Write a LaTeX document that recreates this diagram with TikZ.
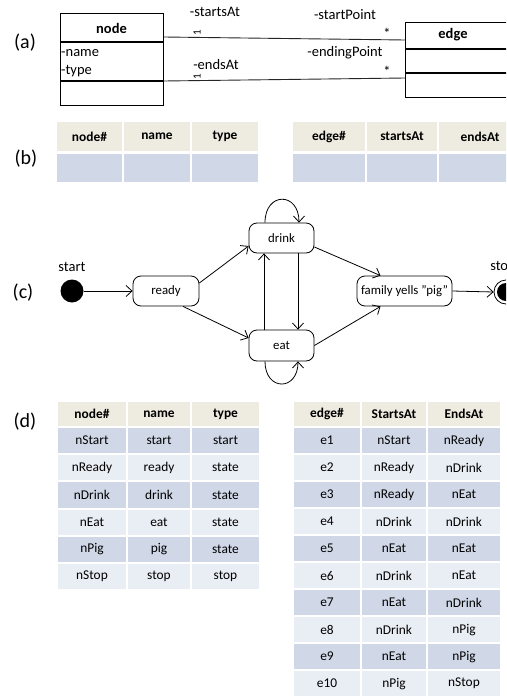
\documentclass[tikz,border=0pt]{standalone}
\usepackage{fontspec}
\setmainfont{Carlito}
\usetikzlibrary{arrows.meta}
\definecolor{hdr}{RGB}{238,236,225}
\definecolor{rowdark}{RGB}{208,216,232}
\definecolor{rowlight}{RGB}{233,237,244}
\begin{document}
\begin{tikzpicture}[x=1pt,y=-1pt,
  cell/.style={inner sep=0pt, outer sep=0pt, font=\fontsize{13.4}{15}\selectfont},
  hcell/.style={cell, fill=hdr, font=\fontsize{13.4}{15}\selectfont\bfseries},
  state/.style={draw, rounded corners=8pt, line width=0.8pt, inner sep=0pt, font=\fontsize{12.8}{14}\selectfont},
  trans/.style={line width=0.8pt, -{Straight Barb[length=6pt,width=11pt]}},
  lbl/.style={inner sep=0pt, font=\fontsize{14.5}{16}\selectfont},
  panel/.style={inner sep=0pt, font=\fontsize{20}{23}\selectfont},
  umlbox/.style={draw, line width=1.1pt, inner sep=0pt, anchor=north west},
  umlline/.style={line width=0.9pt, draw=black!85}
]
\clip (0,0) rectangle (506,696);
\fill[white] (0,0) rectangle (506,696);

% ---------------- (a) UML ----------------
\node[panel] (pa) at (25,43) {(a)};
\node[umlbox, minimum width=103pt, minimum height=92pt] (umlnode) at (60,13) {};
\draw[line width=1.1pt] ([yshift=-29pt]umlnode.north west) -- ([yshift=-29pt]umlnode.north east);
\draw[line width=1.1pt] ([yshift=-68pt]umlnode.north west) -- ([yshift=-68pt]umlnode.north east);
\node[lbl, font=\fontsize{14.5}{16}\selectfont\bfseries] (nodetitle) at (111.5,28) {node};
\node[lbl, anchor=west] (attrname) at (61,53) {-name};
\node[lbl, anchor=west] (attrtype) at (61,71) {-type};

\node[umlbox, minimum width=130pt, minimum height=75pt] (umledge) at (405,22) {};
\draw[line width=1.1pt] ([yshift=-27pt]umledge.north west) -- ([yshift=-27pt]umledge.north east);
\draw[line width=1.1pt] ([yshift=-51pt]umledge.north west) -- ([yshift=-51pt]umledge.north east);
\node[lbl, font=\fontsize{14.5}{16}\selectfont\bfseries] (edgetitle) at (453,35) {edge};

\draw[umlline] ([yshift=-24pt]umlnode.north east) -- ([yshift=-18pt]umledge.north west);
\draw[umlline] ([yshift=-68pt]umlnode.north east) -- ([yshift=-56pt]umledge.north west);

\node[lbl] (lstarts) at (215,12) {-startsAt};
\node[lbl] (lends) at (216,65) {-endsAt};
\node[lbl] (lstartp) at (345,15) {-startPoint};
\node[lbl] (lendp) at (345,53) {-endingPoint};
\node[inner sep=0pt, rotate=90, font=\fontsize{11}{12}\selectfont] (one1) at (197,32.5) {1};
\node[inner sep=0pt, rotate=90, font=\fontsize{11}{12}\selectfont] (one2) at (197,76.5) {1};
\node[lbl] (star1) at (387,33) {*};
\node[lbl] (star2) at (387,71) {*};

% ---------------- (b) empty tables ----------------
\node[panel] (pb) at (26,159) {(b)};
\foreach \cx/\w/\t [count=\k] in {89.5/65/node\#, 157/66/name, 225/66/type}{
  \node[hcell, minimum width=\w pt, minimum height=29pt] (bh\k) at (\cx,136.5) {\t};
  \node[cell, fill=rowdark, minimum width=\w pt, minimum height=28pt] (bd\k) at (\cx,168) {};
}
\foreach \cx/\w/\t [count=\k] in {329/72/edge\#, 402/70/startsAt, 480/82/endsAt}{
  \node[hcell, minimum width=\w pt, minimum height=29pt] (be\k) at (\cx,136.5) {\t};
  \node[cell, fill=rowdark, minimum width=\w pt, minimum height=28pt] (bf\k) at (\cx,168) {};
}

% ---------------- (c) state diagram ----------------
\node[panel] (pc) at (23,293) {(c)};
\node[circle, fill=black, minimum size=23pt, inner sep=0pt] (start) at (72,291) {};
\node[lbl] (startlbl) at (72,267) {start};
\node[state, minimum width=66pt, minimum height=30pt] (ready) at (166,291) {ready};
\node[state, minimum width=65pt, minimum height=30pt] (drink) at (281.5,238) {drink};
\node[state, minimum width=65pt, minimum height=31pt] (eat) at (281.5,345.5) {eat};
\node[state, minimum width=95pt, minimum height=30pt] (pig) at (404.5,291) {family yells \symbol{34}pig\symbol{34}};
\node[circle, draw, line width=0.8pt, minimum size=24pt, inner sep=0pt] (stop) at (506,292) {};
\node[circle, fill=black, minimum size=18pt, inner sep=0pt] (stopin) at (506,292) {};
\node[lbl] (stoplbl) at (503,267) {stop};

\draw[trans] (start) -- (ready.west);
\draw[trans] ([yshift=8pt]ready.east) -- ([yshift=-8pt]drink.west);
\draw[trans] ([xshift=17pt]ready.south) -- ([yshift=7.5pt]eat.west);
\draw[trans] ([yshift=-9pt]drink.east) -- ([xshift=-24pt]pig.north);
\draw[trans] (eat.east) -- ([xshift=-24pt]pig.south);
\draw[trans] ([xshift=16.5pt]drink.south) -- ([xshift=16.5pt]eat.north);
\draw[trans] ([xshift=-17.5pt]eat.north) -- ([xshift=-17.5pt]drink.south);
\draw[trans] ([xshift=-16.5pt]drink.north) .. controls +(0,-31) and +(0,-31) .. ([xshift=17.5pt]drink.north);
\draw[trans] ([xshift=-16.5pt]eat.south) .. controls +(0,30) and +(0,30) .. ([xshift=16.5pt]eat.south);
\draw[trans] (pig.east) -- (stop.west);

% ---------------- (d) filled tables ----------------
\node[panel] (pd) at (25,422) {(d)};
\node[hcell, minimum width=68pt, minimum height=24pt] (dh1) at (92,414) {node\#};
\node[hcell, minimum width=62pt, minimum height=24pt] (dh2) at (159,414) {name};
\node[hcell, minimum width=67pt, minimum height=24pt] (dh3) at (225.5,414) {type};
\foreach \a/\b/\c [count=\i] in {nStart/start/start, nReady/ready/state, nDrink/drink/state, nEat/eat/state, nPig/pig/state, nStop/stop/stop}{
  \ifodd\i\def\rc{rowdark}\else\def\rc{rowlight}\fi
  \pgfmathsetmacro\yy{440.6+27.2*(\i-1)}
  \node[cell, fill=\rc, minimum width=68pt, minimum height=25.2pt] (dn\i a) at (92,\yy) {\a};
  \node[cell, fill=\rc, minimum width=62pt, minimum height=25.2pt] (dn\i b) at (159,\yy) {\b};
  \node[cell, fill=\rc, minimum width=67pt, minimum height=25.2pt] (dn\i c) at (225.5,\yy) {\c};
}
\node[hcell, minimum width=66pt, minimum height=24pt] (eh1) at (327,414) {edge\#};
\node[hcell, minimum width=64pt, minimum height=24pt] (eh2) at (394,414) {StartsAt};
\node[hcell, minimum width=72pt, minimum height=24pt] (eh3) at (464,414) {EndsAt};
\foreach \a/\b/\c [count=\i] in {e1/nStart/nReady, e2/nReady/nDrink, e3/nReady/nEat, e4/nDrink/nDrink, e5/nEat/nEat, e6/nDrink/nEat, e7/nEat/nDrink, e8/nDrink/nPig, e9/nEat/nPig, e10/nPig/nStop}{
  \ifodd\i\def\rc{rowdark}\else\def\rc{rowlight}\fi
  \pgfmathsetmacro\yy{440.6+27*(\i-1)}
  \node[cell, fill=\rc, minimum width=66pt, minimum height=25pt] (en\i a) at (327,\yy) {\a};
  \node[cell, fill=\rc, minimum width=64pt, minimum height=25pt] (en\i b) at (394,\yy) {\b};
  \node[cell, fill=\rc, minimum width=72pt, minimum height=25pt] (en\i c) at (464,\yy) {\c};
}
\end{tikzpicture}
\end{document}
